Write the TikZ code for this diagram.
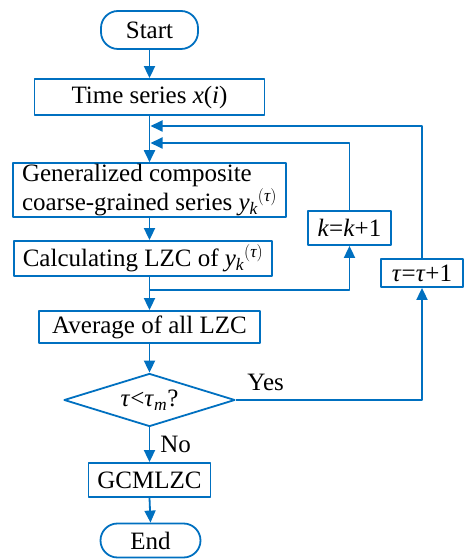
\documentclass[tikz,border=0pt]{standalone}
\usepackage{amsmath}
\usepackage{fontspec}
\setmainfont{Liberation Serif}
\usetikzlibrary{arrows.meta,shapes.geometric}
\definecolor{flowblue}{RGB}{0,112,192}
\newcommand{\ykt}{\textit{y}\ensuremath{{}_{\textit{k}}{}^{(\textit{τ})}}}

\begin{document}
\begin{tikzpicture}[x=1pt, y=1pt, line join=round, >={Triangle[length=12pt,width=11pt]},
    font=\fontsize{25}{29}\selectfont,
    flowbox/.style={draw=flowblue, line width=1.8pt, inner sep=1pt},
    termbox/.style={flowbox, rounded corners=17pt},
    decbox/.style={flowbox, diamond, aspect=3.15, inner sep=0pt},
    flowline/.style={->, draw=flowblue, line width=1.8pt},
    lbl/.style={inner sep=1pt}]
    \useasboundingbox (0,0) rectangle (465,560);
    % main column
    \node[termbox, minimum width=97pt, minimum height=38pt] (start) at (149.5,530) {Start};
    \node[flowbox, minimum width=230pt, minimum height=36pt] (series) at (149.5,463) {Time series \textit{x}(\textit{i})};
    \node[flowbox, minimum width=273pt, minimum height=52pt, align=left] (gen) at (149.5,370)
        {Generalized composite\\coarse-grained series \ykt};
    \node[flowbox, minimum width=258pt, minimum height=35pt] (calc) at (143,301.5) {Calculating LZC of \ykt};
    \node[flowbox, minimum width=221pt, minimum height=32pt] (avg) at (149.5,233) {Average of all LZC};
    \node[decbox, minimum width=171pt, minimum height=53pt] (dec) at (149.5,160)
        {\textit{τ}<\textit{τ}\textsubscript{\textit{m}}?};
    \node[flowbox, minimum width=122pt, minimum height=34pt] (gcm) at (149.5,80) {GCMLZC};
    \node[termbox, minimum width=100pt, minimum height=34pt] (stop) at (150.5,19.5) {End};
    % loop counters
    \node[flowbox, minimum width=83pt, minimum height=34pt] (kbox) at (349.5,332) {\textit{k}=\textit{k}+1};
    \node[flowbox, minimum width=82pt, minimum height=28pt] (tbox) at (422,287) {\textit{τ}=\textit{τ}+1};
    \coordinate (kjoin) at (149.5,270);
    \coordinate (kback) at (150.5,417);
    \coordinate (tback) at (150.5,434);

    \draw[flowline] (start.south) -- (series.north);
    \draw[flowline] (series.south) -- (gen.north);
    \draw[flowline] (gen.south) -- (gen.south |- calc.north);
    \draw[flowline] (gen.south |- calc.south) -- (avg.north);
    \draw[flowline] (kjoin) -| (kbox.south);
    \draw[flowline] (kbox.north) |- (kback);
    \draw[flowline] (avg.south) -- (dec.north);
    \draw[flowline] (dec.east) -| (tbox.south) node[lbl, pos=0.08, above=7pt] {Yes};
    \draw[flowline] (tbox.north) |- (tback);
    \draw[flowline] (dec.south) -- node[lbl, right=9pt] {No} (gcm.north);
    \draw[flowline] (gcm.south) -- (stop.north);
\end{tikzpicture}
\end{document}
